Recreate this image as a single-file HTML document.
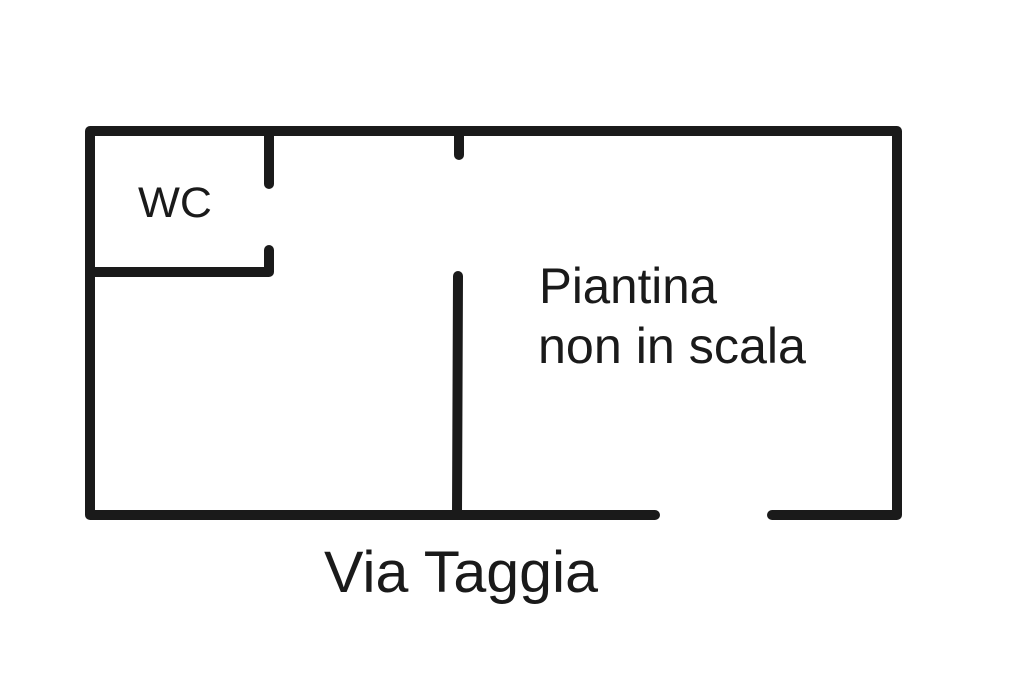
<!DOCTYPE html>
<html><head><meta charset="utf-8"><style>
html,body{margin:0;padding:0;background:#fff;}
svg{display:block}
text{font-family:"Liberation Sans",Arial,sans-serif;fill:#1a1a1a}
</style></head><body>
<svg width="1024" height="682" viewBox="0 0 1024 682" xmlns="http://www.w3.org/2000/svg">
<g stroke="#1a1a1a" stroke-width="10" stroke-linecap="round" stroke-linejoin="round" fill="none">
<polyline points="655,515 90,515 90,131 897,131 897,515 772,515"/>
<line x1="269" y1="131" x2="269" y2="184"/>
<polyline points="90,272 269,272 269,250"/>
<line x1="459" y1="131" x2="459" y2="155"/>
<line x1="458" y1="276" x2="457" y2="515"/>
</g>
<text x="138" y="217" font-size="43" textLength="74" lengthAdjust="spacingAndGlyphs">WC</text>
<text x="539" y="303" font-size="50" textLength="178" lengthAdjust="spacingAndGlyphs">Piantina</text>
<text x="538" y="363" font-size="50" textLength="268" lengthAdjust="spacingAndGlyphs">non in scala</text>
<text x="324" y="592" font-size="58" textLength="274" lengthAdjust="spacingAndGlyphs">Via Taggia</text>
</svg>
</body></html>
